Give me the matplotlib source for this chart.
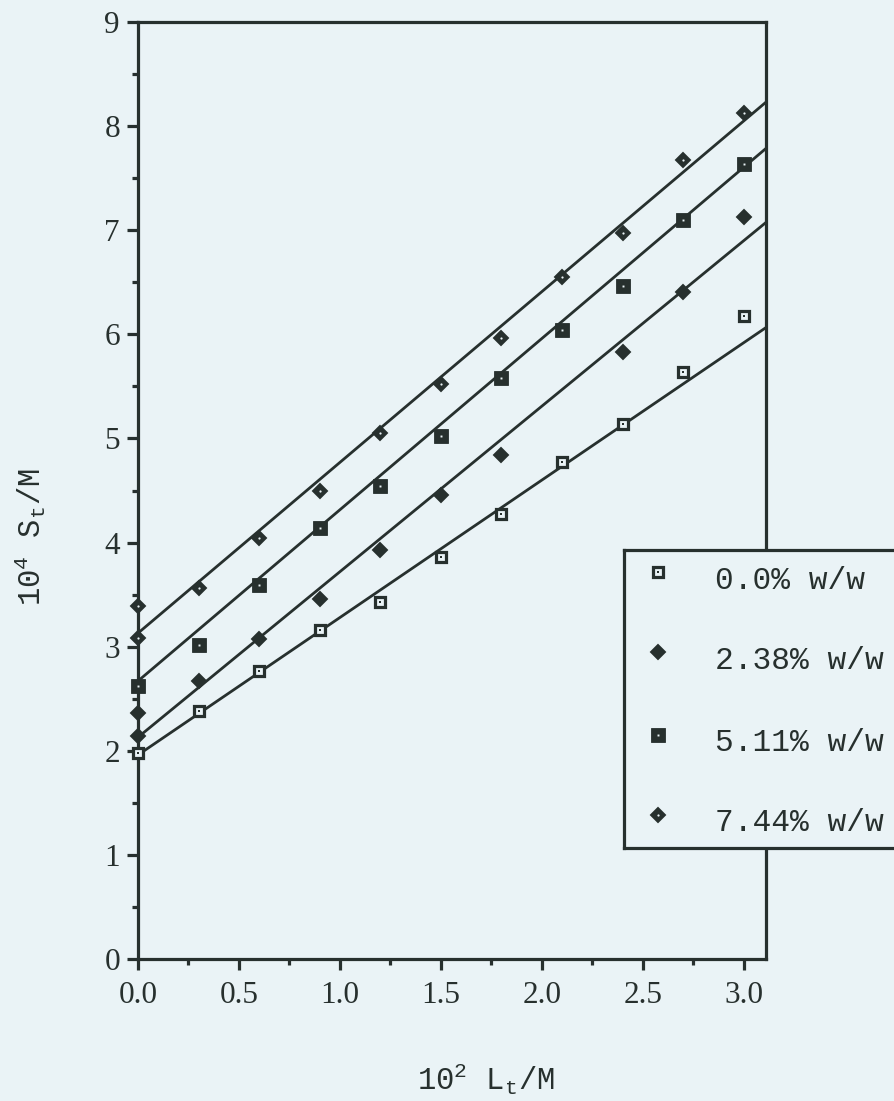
import numpy as np
import matplotlib
matplotlib.use("Agg")
import matplotlib.pyplot as plt
from matplotlib.ticker import MultipleLocator

# ---- data -------------------------------------------------------------
series_labels = ["0.0% w/w", "2.38% w/w", "5.11% w/w", "7.44% w/w"]

x_00 = [0.0, 0.3, 0.6, 0.9, 1.2, 1.5, 1.8, 2.1, 2.4, 2.7, 3.0]
y_00 = [1.98, 2.38, 2.77, 3.16, 3.43, 3.86, 4.27, 4.77, 5.14, 5.64, 6.18]

x_238 = [0.0, 0.0, 0.3, 0.6, 0.9, 1.2, 1.5, 1.8, 2.4, 2.7, 3.0]
y_238 = [2.14, 2.36, 2.67, 3.07, 3.46, 3.93, 4.46, 4.84, 5.83, 6.41, 7.13]

x_511 = [0.0, 0.3, 0.6, 0.9, 1.2, 1.5, 1.8, 2.1, 2.4, 2.7, 3.0]
y_511 = [2.62, 3.02, 3.59, 4.14, 4.54, 5.02, 5.58, 6.04, 6.46, 7.10, 7.64]

x_744 = [0.0, 0.0, 0.3, 0.6, 0.9, 1.2, 1.5, 1.8, 2.1, 2.4, 2.7, 3.0]
y_744 = [3.08, 3.39, 3.56, 4.04, 4.50, 5.05, 5.52, 5.96, 6.55, 6.97, 7.67, 8.13]

# straight-line fits (intercept, slope) for each series
fit_intercepts = [1.96, 2.13, 2.67, 3.13]
fit_slopes = [1.32, 1.59, 1.645, 1.64]

x_ticks = [0.0, 0.5, 1.0, 1.5, 2.0, 2.5, 3.0]
x_tick_labels = ["0.0", "0.5", "1.0", "1.5", "2.0", "2.5", "3.0"]
y_ticks = [0, 1, 2, 3, 4, 5, 6, 7, 8, 9]

# ---- style ------------------------------------------------------------
BG = "#eaf3f6"
INK = "#27302e"
W, H = 894, 1101

plt.rcParams["font.family"] = ["Liberation Serif", "DejaVu Serif"]
plt.rcParams["mathtext.fontset"] = "custom"
plt.rcParams["mathtext.rm"] = "Liberation Mono"
plt.rcParams["mathtext.it"] = "Liberation Mono"
plt.rcParams["mathtext.bf"] = "Liberation Mono"
plt.rcParams["lines.markeredgewidth"] = 1.0
MONO = ["Liberation Mono", "DejaVu Sans Mono"]


def marker_styles():
    # open square with centre dot, filled diamond, filled square with light dot,
    # dark diamond with small light centre
    return [
        [dict(marker="s", ms=7.6, mfc=BG, mec=INK, mew=2.3),
         dict(marker="s", ms=1.8, mfc=INK, mec=INK, mew=0)],
        [dict(marker="D", ms=7.4, mfc=INK, mec=INK, mew=1.4)],
        [dict(marker="s", ms=10.2, mfc=INK, mec=INK, mew=0.6),
         dict(marker="s", ms=1.4, mfc=BG, mec=BG, mew=0)],
        [dict(marker="D", ms=7.0, mfc=INK, mec=INK, mew=1.4),
         dict(marker="o", ms=1.6, mfc=BG, mec=BG, mew=0)],
    ]


fig = plt.figure(figsize=(W / 100, H / 100), dpi=100, facecolor=BG)

left_px, right_px, top_px, bottom_px = 138, 766, 22, 959
ax = fig.add_axes([left_px / W, 1 - bottom_px / H,
                   (right_px - left_px) / W, (bottom_px - top_px) / H])
ax.set_facecolor(BG)
x_max = 3.11
ax.set_xlim(0, x_max)
ax.set_ylim(0, 9)

xs = [x_00, x_238, x_511, x_744]
ys = [y_00, y_238, y_511, y_744]
styles = marker_styles()

xl = np.array([0.0, x_max])
for b, m in zip(fit_intercepts, fit_slopes):
    ax.plot(xl, b + m * xl, color=INK, lw=2.0, solid_capstyle="butt", zorder=2)

for xv, yv, st in zip(xs, ys, styles):
    for s in st:
        line, = ax.plot(xv, yv, ls="none", zorder=3, clip_on=False, **s)
        line.set_markerfacecoloralt(INK)

for sp in ax.spines.values():
    sp.set_color(INK)
    sp.set_linewidth(2.3)

ax.set_xticks(x_ticks)
ax.set_xticklabels(x_tick_labels)
ax.set_yticks(y_ticks)
ax.xaxis.set_minor_locator(MultipleLocator(0.25))
ax.yaxis.set_minor_locator(MultipleLocator(0.5))
ax.tick_params(which="major", direction="out", length=8, width=2.3,
               color=INK, labelcolor=INK, labelsize=22.5)
ax.tick_params(which="minor", direction="out", length=4.5, width=2.3, color=INK)
ax.tick_params(axis="x", which="major", pad=8)
ax.tick_params(axis="y", which="major", pad=5)

# axis titles
fig.text(486 / W, 1 - 1079 / H, "10$^{2}$ L$_{t}$/M", fontfamily=MONO,
         fontsize=22, color=INK, ha="center", va="center")
fig.text(30 / W, 1 - 537 / H, "10$^{4}$ S$_{t}$/M", fontfamily=MONO,
         fontsize=22, color=INK, ha="center", va="center", rotation=90)

# boxed key, running off the right edge of the page
lx0, lx1, ly0, ly1 = 624, 960, 550, 848
lax = fig.add_axes([lx0 / W, 1 - ly1 / H, (lx1 - lx0) / W, (ly1 - ly0) / H])
lax.set_facecolor(BG)
lax.set_xlim(lx0, lx1)
lax.set_ylim(ly1, ly0)
lax.set_xticks([])
lax.set_yticks([])
for sp in lax.spines.values():
    sp.set_color(INK)
    sp.set_linewidth(2.3)

key_marker_y = [572, 652, 735, 815]
key_text_base = [589, 669, 751, 831]
for lab, st, my, ty in zip(series_labels, styles, key_marker_y, key_text_base):
    for s in st:
        lax.plot([658], [my], ls="none", **s)
    lax.text(715, ty, lab, fontfamily=MONO, fontsize=22.5,
             color=INK, ha="left", va="baseline")

fig.savefig("out.png", dpi=100, facecolor=BG)
